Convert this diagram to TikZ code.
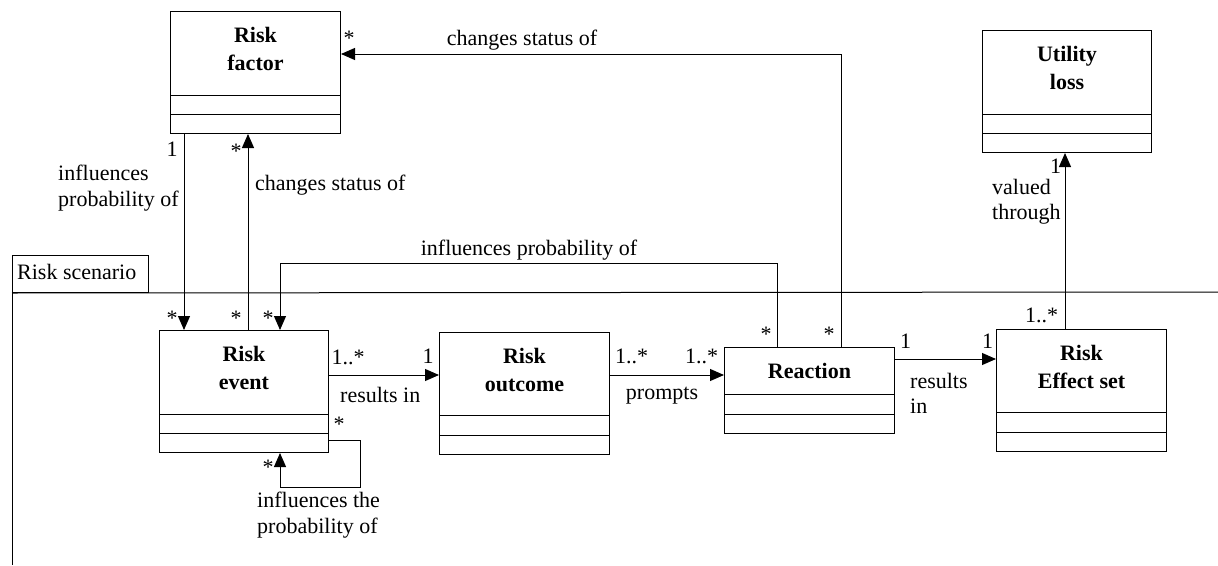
\documentclass[tikz,border=0pt]{standalone}
\usepackage{fontspec}
\setmainfont{Liberation Serif}
\usetikzlibrary{arrows.meta}
\begin{document}
\begin{tikzpicture}[x=1pt,y=-1pt,
  cls/.style={draw, line width=1pt, inner sep=0pt, anchor=north west,
    minimum width=170pt},
  ttl/.style={font=\fontsize{22}{28}\selectfont\bfseries, align=center,
    anchor=north, inner sep=0pt},
  lbl/.style={font=\fontsize{22}{25.5}\selectfont, inner sep=0pt, anchor=base},
  mlbl/.style={font=\fontsize{22}{25.5}\selectfont, inner sep=0pt, align=left,
    anchor=north west},
  lnk/.style={draw, line width=1pt},
  arr/.style={lnk, -{Triangle[length=14pt,width=12pt]}},
  sep/.style={line width=1pt}]
\useasboundingbox (0,0) rectangle (1218,565);

% package frame
\node[draw, line width=1pt, inner sep=0pt, anchor=north west,
  minimum width=136pt, minimum height=37pt] (tab) at (12,255) {};
\node[lbl, anchor=base west] (tabname) at (17,279) {Risk scenario};
\draw[sep] (tab.south west) -- (1218,292);
\draw[sep] (tab.south west) -- (12,565);

% classes
\node[cls, minimum height=122pt] (rf) at (170,11) {};
\node[cls, minimum height=122pt, minimum width=169pt] (ul) at (982,30) {};
\node[cls, minimum height=122pt, minimum width=169pt] (re) at (159,330) {};
\node[cls, minimum height=122pt] (ro) at (439,332) {};
\node[cls, minimum height=86pt] (rx) at (724,347) {};
\node[cls, minimum height=122pt] (es) at (996,329) {};

\node[ttl] (rft) at ([yshift=-16pt]rf.north) {Risk\\factor};
\node[ttl] (ult) at ([yshift=-16pt]ul.north) {Utility\\loss};
\node[ttl] (ret) at ([yshift=-16pt]re.north) {Risk\\event};
\node[ttl] (rot) at ([yshift=-16pt]ro.north) {Risk\\outcome};
\node[ttl] (rxt) at ([yshift=-16pt]rx.north) {Reaction};
\node[ttl] (est) at ([yshift=-16pt]es.north) {Risk\\Effect set};

% compartment separators
\foreach \b/\ya/\yb in {rf/95/114, ul/114/133, re/414/433, ro/415/435,
                        rx/394/414, es/412/432} {
  \coordinate (p1) at (0,\ya);
  \coordinate (p2) at (0,\yb);
  \draw[sep] (\b.west |- p1) -- (\b.east |- p1);
  \draw[sep] (\b.west |- p2) -- (\b.east |- p2);
}

% routing coordinates
\coordinate (xa) at (184,0);
\coordinate (xb) at (248,0);
\coordinate (xc) at (280,0);
\coordinate (xd) at (777,0);
\coordinate (xe) at (841,0);
\coordinate (xf) at (1065,0);
\coordinate (xg) at (360,0);
\coordinate (yt) at (0,54);
\coordinate (yi) at (0,263);
\coordinate (yr) at (0,375);
\coordinate (ys) at (0,359);
\coordinate (yl) at (0,440);
\coordinate (yb) at (0,487);

% associations
\draw[arr] (rf.south -| xa) -- (re.north -| xa);
\draw[arr] (re.north -| xb) -- (rf.south -| xb);
\draw[arr] (rx.north -| xd) -- (xd |- yi) -- (xc |- yi) -- (re.north -| xc);
\draw[arr] (rx.north -| xe) -- (xe |- yt) -- (rf.east |- yt);
\draw[arr] (re.east |- yr) -- (ro.west |- yr);
\draw[arr] (ro.east |- yr) -- (rx.west |- yr);
\draw[arr] (rx.east |- ys) -- (es.west |- ys);
\draw[arr] (es.north -| xf) -- (ul.south -| xf);
\draw[arr] (re.east |- yl) -- (xg |- yl) -- (xg |- yb) -- (xc |- yb) -- (re.south -| xc);

% association names
\node[lbl] (l1) at (522,45) {changes status of};
\node[mlbl] (l2) at (58,165) {influences\\probability of};
\node[lbl, anchor=base west] (l3) at (255,190) {changes status of};
\node[lbl] (l4) at (529,255) {influences probability of};
\node[lbl, anchor=base west] (l5) at (340,402) {results in};
\node[lbl] (l6) at (662,399) {prompts};
\node[mlbl] (l7) at (910,373) {results\\in};
\node[mlbl] (l8) at (992,179) {valued\\through};
\node[mlbl] (l9) at (257,492) {influences the\\probability of};

% multiplicities
\node[lbl] (m1) at (349,45) {*};
\node[lbl] (m2) at (172,156) {1};
\node[lbl] (m3) at (236,158) {*};
\node[lbl] (m4) at (172,325) {*};
\node[lbl] (m5) at (236,325) {*};
\node[lbl] (m6) at (268,325) {*};
\node[lbl] (m7) at (348,364) {1..*};
\node[lbl] (m8) at (339,431) {*};
\node[lbl] (m9) at (268,474) {*};
\node[lbl] (m10) at (428,363) {1};
\node[lbl, anchor=base west] (m11) at (615,363) {1..*};
\node[lbl, anchor=base west] (m12) at (685,363) {1..*};
\node[lbl] (m13) at (766,341) {*};
\node[lbl] (m14) at (829,341) {*};
\node[lbl, anchor=base west] (m15) at (900,348) {1};
\node[lbl, anchor=base west] (m16) at (982,348) {1};
\node[lbl, anchor=base west] (m17) at (1025,322) {1..*};
\node[lbl, anchor=base west] (m18) at (1050,173) {1};
\end{tikzpicture}
\end{document}
